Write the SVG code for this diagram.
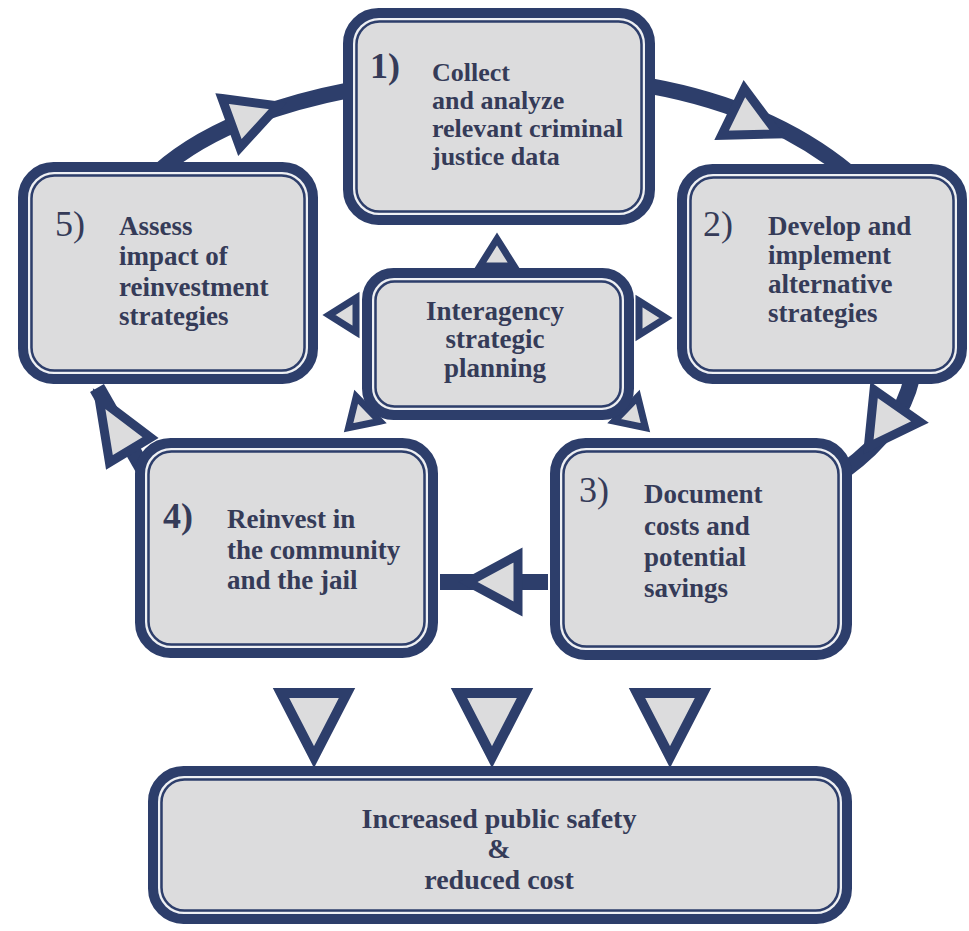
<svg xmlns="http://www.w3.org/2000/svg" width="969" height="931" viewBox="0 0 969 931">
<style>
.bo{fill:#dcdcdd;stroke:#2d3e6b;stroke-width:11}
.bi{fill:none;stroke:#2d3e6b;stroke-width:2.5}
.bl{fill:none;stroke:#eef0f4;stroke-width:2}
.ln{fill:none;stroke:#2d3e6b;stroke-width:16}
.ah{fill:#dcdcdd;stroke:#2d3e6b;stroke-width:9;stroke-linejoin:miter}
.sa{fill:#dcdcdd;stroke:#2d3e6b;stroke-width:7;stroke-linejoin:miter}
.t{font-family:"Liberation Serif",serif;font-weight:bold;font-size:27px;fill:#353b58}
.n{font-family:"Liberation Serif",serif;font-size:36px;fill:#353b58}
.c{text-anchor:middle}
</style>
<rect width="969" height="931" fill="#ffffff"/>
<g id="connectors">
  <path class="ln" d="M158,172 Q222,115 350,90"/>
  <path class="ln" d="M650,86 Q770,108 848,172"/>
  <path class="ln" d="M912,378 Q900,430 845,470"/>
  <path class="ln" d="M548,582 L440,582"/>
  <path class="ln" d="M145,472 L97,388"/>
  <polygon class="ah" points="0,-26 50,0 0,26" transform="translate(231,123) rotate(-20)"/>
  <polygon class="ah" points="0,-26 50,0 0,26" transform="translate(733,112) rotate(26)"/>
  <polygon class="ah" points="0,-28 50,0 0,28" transform="translate(897,406) rotate(125)"/>
  <polygon class="ah" points="0,-27 50,0 0,27" transform="translate(518,582) rotate(180)"/>
  <polygon class="ah" points="0,-24 60,0 0,24" transform="translate(130,450) rotate(239)"/>
  <polygon class="sa" points="0,-17 27,0 0,17" transform="translate(497,266) rotate(-90)"/>
  <polygon class="sa" points="0,-17 27,0 0,17" transform="translate(356,315) rotate(180)"/>
  <polygon class="sa" points="0,-17 27,0 0,17" transform="translate(639,318)"/>
  <polygon class="sa" points="0,-17 27,0 0,17" transform="translate(368,409) rotate(136)"/>
  <polygon class="sa" points="0,-17 27,0 0,17" transform="translate(626,409) rotate(44)"/>
  <polygon class="ah" points="281,693 347,693 314,757" style="stroke-width:10"/>
  <polygon class="ah" points="459,693 525,693 492,757" style="stroke-width:10"/>
  <polygon class="ah" points="637,693 703,693 670,757" style="stroke-width:10"/>
</g>
<g id="node1">
  <rect class="bo" x="348.5" y="13.5" width="301" height="206" rx="30"/>
  <rect class="bl" x="354" y="19" width="290" height="195" rx="25"/>
  <rect class="bi" x="356.5" y="21.5" width="285" height="190" rx="23"/>
  <text class="n" x="370" y="78" font-weight="bold">1)</text>
  <text class="t" style="font-size:26px"><tspan x="432" y="81">Collect</tspan><tspan x="432" y="109">and analyze</tspan><tspan x="432" y="137">relevant criminal</tspan><tspan x="432" y="165">justice data</tspan></text>
</g>
<g id="node2">
  <rect class="bo" x="682.5" y="169.5" width="279" height="209" rx="30"/>
  <rect class="bl" x="688" y="175" width="268" height="198" rx="25"/>
  <rect class="bi" x="690.5" y="177.5" width="263" height="193" rx="23"/>
  <text class="n" x="703" y="236">2)</text>
  <text class="t"><tspan x="768" y="235">Develop and</tspan><tspan x="768" y="264">implement</tspan><tspan x="768" y="293">alternative</tspan><tspan x="768" y="322">strategies</tspan></text>
</g>
<g id="node5">
  <rect class="bo" x="23.5" y="167.5" width="289" height="211" rx="30"/>
  <rect class="bl" x="29" y="173" width="278" height="200" rx="25"/>
  <rect class="bi" x="31.5" y="175.5" width="273" height="195" rx="23"/>
  <text class="n" x="55" y="236">5)</text>
  <text class="t"><tspan x="119" y="235">Assess</tspan><tspan x="119" y="265">impact of</tspan><tspan x="119" y="296">reinvestment</tspan><tspan x="119" y="325">strategies</tspan></text>
</g>
<g id="nodeC">
  <rect class="bo" x="367.5" y="273.5" width="261" height="141" rx="26"/>
  <rect class="bl" x="373" y="279" width="250" height="130" rx="21"/>
  <rect class="bi" x="375.5" y="281.5" width="245" height="125" rx="19"/>
  <text class="t c"><tspan x="495" y="320">Interagency</tspan><tspan x="495" y="348">strategic</tspan><tspan x="495" y="377">planning</tspan></text>
</g>
<g id="node4">
  <rect class="bo" x="140.5" y="443.5" width="292" height="209" rx="30"/>
  <rect class="bl" x="146" y="449" width="281" height="198" rx="25"/>
  <rect class="bi" x="148.5" y="451.5" width="276" height="193" rx="23"/>
  <text class="n" x="163" y="528" font-weight="bold">4)</text>
  <text class="t"><tspan x="227" y="528">Reinvest in</tspan><tspan x="227" y="559">the community</tspan><tspan x="227" y="589">and the jail</tspan></text>
</g>
<g id="node3">
  <rect class="bo" x="555.5" y="443.5" width="291" height="211" rx="30"/>
  <rect class="bl" x="561" y="449" width="280" height="200" rx="25"/>
  <rect class="bi" x="563.5" y="451.5" width="275" height="195" rx="23"/>
  <text class="n" x="579" y="502">3)</text>
  <text class="t"><tspan x="644" y="503">Document</tspan><tspan x="644" y="535">costs and</tspan><tspan x="644" y="566">potential</tspan><tspan x="644" y="597">savings</tspan></text>
</g>
<g id="nodeOut">
  <rect class="bo" x="153.5" y="771.5" width="693" height="147" rx="30"/>
  <rect class="bl" x="159" y="777" width="682" height="136" rx="25"/>
  <rect class="bi" x="161.5" y="779.5" width="677" height="131" rx="23"/>
  <text class="t c" style="font-size:28px"><tspan x="499" y="828">Increased public safety</tspan><tspan x="499" y="858">&amp;</tspan><tspan x="499" y="889">reduced cost</tspan></text>
</g>
</svg>
